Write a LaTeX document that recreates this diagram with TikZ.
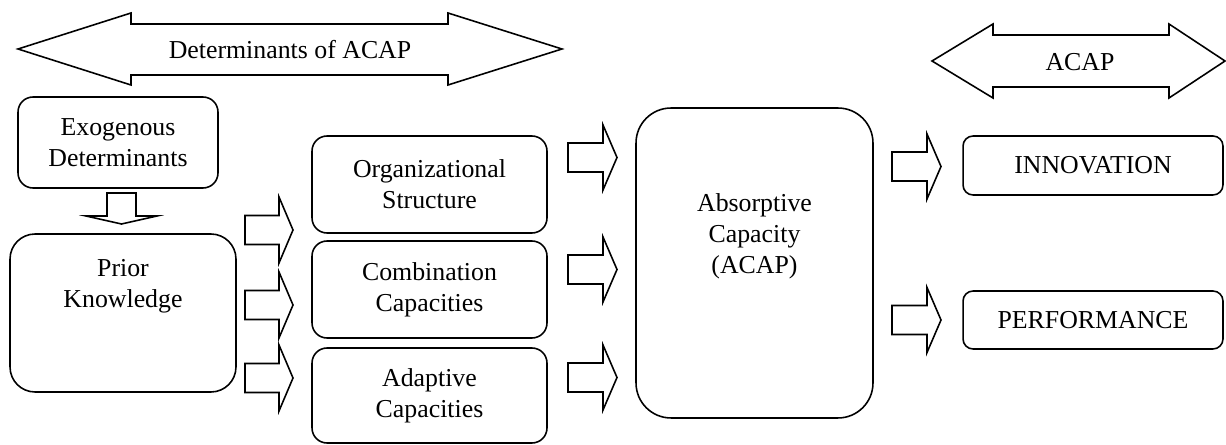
\documentclass[tikz,border=0pt]{standalone}
\usepackage{fontspec}
\setmainfont{Liberation Serif}
\usetikzlibrary{positioning}

\begin{document}
\begin{tikzpicture}[x=0.02cm, y=-0.02cm,
  every node/.style={font=\fontsize{14.7}{17.6}\selectfont},
  box/.style={draw, line width=0.9pt, rounded corners=0.3cm, align=center},
  txt/.style={align=center, inner sep=0pt},
  blk/.style={draw, line width=0.9pt, line join=miter}]
  \useasboundingbox (0,0) rectangle (1226,445);
  % top double arrows
  \draw[blk] (18,49) -- (131,13) -- (131,24) -- (448,24) -- (448,13) -- (562,49) -- (448,85) -- (448,75) -- (131,75) -- (131,85) -- cycle;
  \node[txt] (detlbl) at (290,50) {Determinants of ACAP};
  \draw[blk] (932,61) -- (993,24) -- (993,35) -- (1169,35) -- (1169,24) -- (1225,61) -- (1169,98) -- (1169,87) -- (993,87) -- (993,98) -- cycle;
  \node[txt] (acaplbl) at (1080,62) {ACAP};
  % boxes
  \node[box, minimum width=4cm, minimum height=1.82cm] (exo) at (118,142.5) {Exogenous\\Determinants};
  \node[box, rounded corners=0.5cm, minimum width=4.52cm, minimum height=3.16cm] (prior) at (123,313) {};
  \node[txt] (priortxt) at (123,286) {Prior\\Knowledge};
  \node[box, minimum width=4.7cm, minimum height=1.94cm] (org) at (429.5,184.5) {Organizational\\Structure};
  \node[box, minimum width=4.7cm, minimum height=1.94cm] (comb) at (429.5,289.5) {Combination\\Capacities};
  \node[box, minimum width=4.7cm, minimum height=1.9cm] (adapt) at (429.5,395.5) {Adaptive\\Capacities};
  \node[box, rounded corners=0.7cm, minimum width=4.74cm, minimum height=6.2cm] (acap) at (754.5,263) {};
  \node[txt] (acaptxt) at (754.5,236) {Absorptive\\Capacity\\(ACAP)};
  \node[box, rounded corners=0.2cm, minimum width=5.2cm, minimum height=1.18cm] (innov) at (1093,165.5) {INNOVATION};
  \node[box, rounded corners=0.2cm, minimum width=5.2cm, minimum height=1.16cm] (perf) at (1093,320) {PERFORMANCE};
  % block arrows
  \draw[blk] (107,193) -- (136,193) -- (136,216) -- (157,216) -- (121.5,224) -- (86,216) -- (107,216) -- cycle;
  \draw[blk] (245,215.5) -- (279,215.5) -- (279,197) -- (293,230) -- (279,263) -- (279,244.5) -- (245,244.5) -- cycle;
  \draw[blk] (245,290.5) -- (279,290.5) -- (279,272) -- (293,305) -- (279,338) -- (279,319.5) -- (245,319.5) -- cycle;
  \draw[blk] (245,363.5) -- (279,363.5) -- (279,345) -- (293,378) -- (279,411) -- (279,392.5) -- (245,392.5) -- cycle;
  \draw[blk] (568,143) -- (603,143) -- (603,125) -- (617,157.5) -- (603,190) -- (603,172) -- (568,172) -- cycle;
  \draw[blk] (568,255) -- (603,255) -- (603,237) -- (617,269.5) -- (603,302) -- (603,284) -- (568,284) -- cycle;
  \draw[blk] (568,363) -- (603,363) -- (603,345) -- (617,377.5) -- (603,410) -- (603,392) -- (568,392) -- cycle;
  \draw[blk] (892,152) -- (927,152) -- (927,134) -- (941,166.5) -- (927,199) -- (927,181) -- (892,181) -- cycle;
  \draw[blk] (892,305.5) -- (927,305.5) -- (927,287.5) -- (941,320) -- (927,352.5) -- (927,334.5) -- (892,334.5) -- cycle;
\end{tikzpicture}
\end{document}
